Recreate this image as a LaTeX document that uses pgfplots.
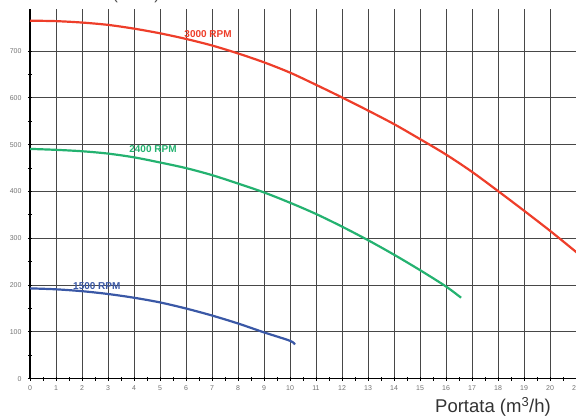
\documentclass[border=0pt]{standalone}
\usepackage{pgfplots}
\pgfplotsset{compat=1.18}
\usepackage{fontspec}
\setmainfont{Liberation Sans}

\definecolor{rpmred}{RGB}{238,62,42}
\definecolor{rpmgreen}{RGB}{36,178,112}
\definecolor{rpmblue}{RGB}{58,88,166}

\begin{document}
\begin{tikzpicture}

\begin{axis}[
at={(30pt,38.3pt)},
anchor=origin,
x=26pt,
y=0.468pt,
xmin=0, xmax=22,
ymin=0, ymax=790,
axis x line=bottom,
axis y line=left,
axis line style={-, line width=1.2pt, black},
xtick={0,...,21},
ytick={0,100,...,700},
minor x tick num=1,
minor y tick num=1,
tick align=center,
major tick length=4pt,
minor tick length=4pt,
tick style={black, line width=0.8pt},
grid=major,
major grid style={line width=1pt, black!72},
tick label style={font=\fontsize{7}{8}\selectfont, text=black!55},
/pgf/number format/assume math mode=true,
/pgf/number format/1000 sep={},
xticklabel style={yshift=-1pt},
yticklabel style={xshift=-3pt},
clip=false
]

% 3000 RPM
\addplot [rpmred, line width=2.2pt, smooth] coordinates {
	(0,765) (1,764) (2,761) (3,756) (4,748) (5,738) (6,726) (7,712)
	(8,695) (9,676) (10,654) (11,628) (12,601) (13,573) (14,544)
	(15,512) (16,479) (17,442) (18,401) (19,359) (20,316) (21,271) (21.6,243)
};

% 2400 RPM
\addplot [rpmgreen, line width=2.2pt, smooth] coordinates {
	(0,491) (1,489) (2,486) (3,481) (4,473) (5,462) (6,450) (7,435)
	(8,417) (9,398) (10,376) (11,352) (12,325) (13,296) (14,265)
	(15,232) (16,197) (16.58,173)
};

% 1500 RPM
\addplot [rpmblue, line width=2.2pt, smooth] coordinates {
	(0,193) (1,191) (2,187) (3,181) (4,173) (5,163) (6,150) (7,135)
	(8,118) (9,99) (10,81) (10.19,73)
};

\node [text=rpmred, font=\bfseries\fontsize{10}{12}\selectfont] at (axis cs:6.85,736) {3000 RPM};
\node [text=rpmgreen, font=\bfseries\fontsize{10}{12}\selectfont] at (axis cs:4.73,490) {2400 RPM};
\node [text=rpmblue, font=\bfseries\fontsize{10}{12}\selectfont] at (axis cs:2.57,197) {1500 RPM};
\end{axis}

\node [anchor=base, text=black!80, font=\fontsize{18.5}{20}\selectfont, inner sep=0pt] at (493pt,4.5pt) {Portata (m\textsuperscript{3}/h)};
\node [anchor=base west, text=black!70, font=\fontsize{16}{18}\selectfont, inner sep=0pt] at (28pt,417pt) {Prevalenza (mbar)};

\pgfresetboundingbox
\path [use as bounding box] (0,0) rectangle (576pt,417pt);
\end{tikzpicture}
\end{document}
